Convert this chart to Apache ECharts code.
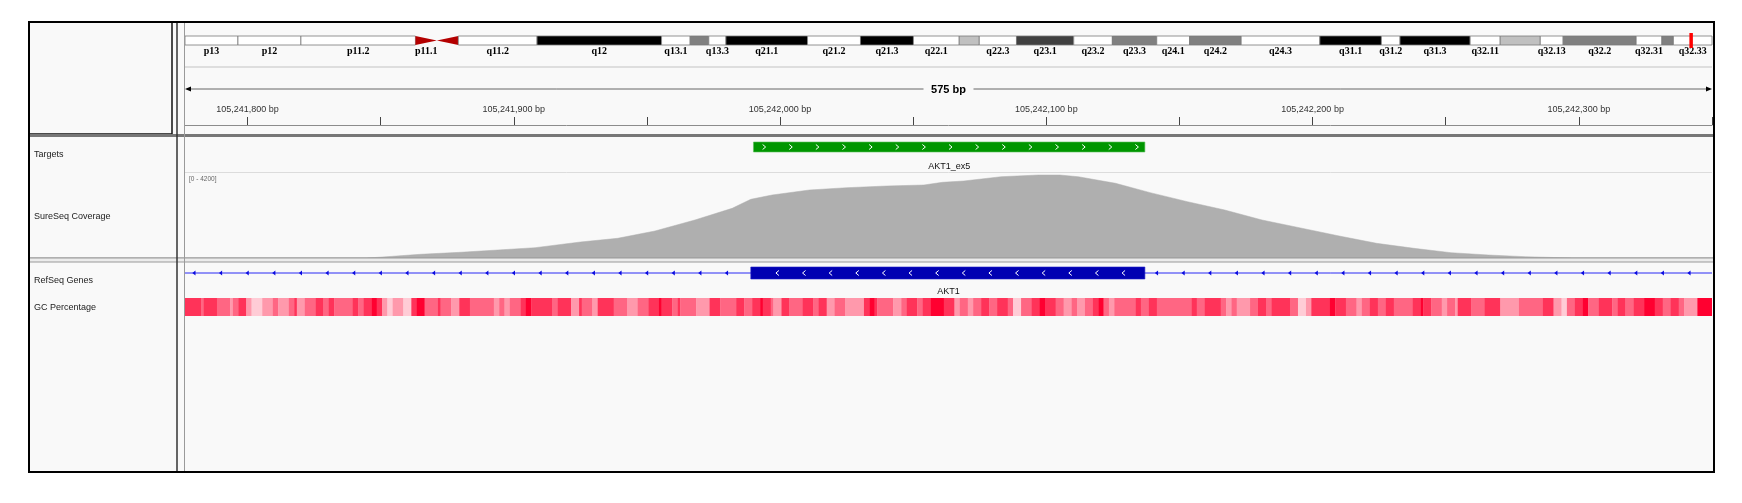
<!DOCTYPE html>
<html>
<head>
<meta charset="utf-8">
<title>AKT1 exon 5 - SureSeq coverage</title>
<script src="https://cdn.jsdelivr.net/npm/echarts@6/dist/echarts.min.js"></script>
<style>
html,body{margin:0;padding:0;background:#fff;}
#chart{width:1742px;height:503px;}
</style>
</head>
<body>
<div id="chart"></div>
<script>
// chr14 ideogram bands, start in Mb (each band ends where the next starts)
var bandNames  = ['p13','p12','p11.2','p11.1','q11.1','q11.2','q12','q13.1','q13.2','q13.3','q21.1','q21.2','q21.3','q22.1','q22.2','q22.3',
                  'q23.1','q23.2','q23.3','q24.1','q24.2','q24.3','q31.1','q31.2','q31.3','q32.11','q32.12','q32.13','q32.2','q32.31','q32.32','q32.33'];
var bandStarts = [0, 3.7, 8.1, 16.1, 17.6, 19.1, 24.6, 33.3, 35.3, 36.6, 37.8, 43.5, 47.2, 50.9, 54.1, 55.5,
                  58.1, 62.1, 64.8, 67.9, 70.2, 73.8, 79.3, 83.6, 84.9, 89.8, 91.9, 94.7, 96.3, 101.4, 103.2, 104.0];
var bandStains = ['gneg','gneg','gneg','acen','acen','gneg','gpos100','gneg','gpos50','gneg','gpos100','gneg','gpos100','gneg','gpos25','gneg',
                  'gpos75','gneg','gpos50','gneg','gpos50','gneg','gpos100','gneg','gpos100','gneg','gpos25','gneg','gpos50','gneg','gpos50','gneg'];
var bandHidden = ['q11.1','q13.2','q22.2','q32.12','q32.32'];   // labels IGV skipped
var chrLength = 107.35;
var ideoMax = 106.7;

// view window (bp)
var regionStart = 105241776.5;
var regionEnd = 105242350;
var regionWidth = '575 bp';
var rulerTicks  = [105241800, 105241850, 105241900, 105241950, 105242000, 105242050, 105242100, 105242150, 105242200, 105242250, 105242300, 105242350];
var rulerLabels = [105241800, 105241900, 105242000, 105242100, 105242200, 105242300];

// Targets track
var targetName = 'AKT1_ex5';
var targetStart = 105241990;
var targetEnd = 105242137;

// RefSeq gene (minus strand)
var geneName = 'AKT1';
var geneStart = 105235686;
var geneEnd = 105262088;
var exonStart = 105241989;
var exonEnd = 105242137;

// SureSeq coverage, range [0 - 4200]
var covMax = 4200;
var covPos = [105241845, 105241852, 105241865, 105241880, 105241894, 105241908, 105241925, 105241939, 105241953, 105241968,
              105241982, 105241989, 105241997, 105242011, 105242025, 105242040, 105242054, 105242061, 105242069, 105242083,
              105242097, 105242105, 105242112, 105242126, 105242139, 105242153, 105242167, 105242181, 105242195, 105242210,
              105242224, 105242238, 105242252, 105242266, 105242280, 105242297];
var covVal = [0, 60, 183, 282, 395, 509, 790, 973, 1334, 1877,
              2455, 2900, 3112, 3360, 3473, 3557, 3607, 3740, 3804, 4016,
              4100, 4100, 4016, 3690, 3230, 2781, 2371, 1877, 1497, 1087,
              726, 479, 262, 148, 64, 0];

// GC percentage: window end (bp offset from regionStart) and GC %
var gcEnds = [6,7,12,17,18,20,23,25,29,33,35,39,41,42,45,49,52,54,56,63,65,67,70,72,74,76,78,82,85,87,90,95,96,100,103,107,116,118,120,122,
              126,128,130,138,140,145,148,149,153,155,161,166,170,174,178,179,183,185,186,192,197,201,207,210,213,216,217,220,221,224,
              227,232,236,238,241,244,248,255,257,259,260,266,269,271,275,277,280,285,289,291,294,296,299,302,305,309,311,314,318,321,
              323,327,330,333,335,338,341,343,345,347,349,357,359,362,365,378,380,383,389,391,393,395,400,403,406,408,415,418,421,423,
              430,432,436,440,442,445,448,451,454,461,464,465,468,472,474,477,478,483,488,494,501,510,514,517,519,522,525,527,531,536,
              538,541,544,548,552,555,558,561,563,568,575];
var gcPct  = [80,60,80,60,40,60,80,40,20,40,60,40,60,80,40,60,80,60,80,60,80,60,80,100,80,40,20,40,20,80,100,60,80,60,40,80,60,40,60,40,
              60,80,100,80,60,80,40,80,60,40,80,60,40,60,80,100,80,60,80,60,40,80,60,80,60,80,100,80,60,40,
              80,60,80,60,80,40,60,40,80,100,80,60,40,60,80,60,80,100,80,40,60,40,60,80,60,80,60,20,60,80,
              100,80,60,40,60,40,60,80,100,60,40,60,80,60,80,60,80,60,80,60,40,60,40,60,80,60,80,60,20,40,
              80,100,80,60,40,60,80,60,80,60,80,100,80,60,40,60,40,80,60,80,40,60,80,40,20,60,80,100,60,80,
              60,80,60,80,100,80,60,80,60,40,100];

var stainColor = {gneg:'#ffffff', gpos25:'#c0c0c0', gpos50:'#808080', gpos75:'#404040', gpos100:'#000000'};
var FONT = '"Liberation Sans", Arial, sans-serif';

function commas(n) {
    return String(n).replace(/\B(?=(\d{3})+(?!\d))/g, ',');
}

function gcColor(v) {
    var g = Math.round(255 - 2.55 * v);
    var b = Math.round(255 - 2.07 * v);
    return 'rgb(255,' + g + ',' + b + ')';
}

var bandData = bandStarts.map(function (s, i) {
    return [s, i < bandStarts.length - 1 ? bandStarts[i + 1] : chrLength, i];
});

var gcData = gcEnds.map(function (e, i) {
    var s = i ? gcEnds[i - 1] : 0;
    return [regionStart + s, regionStart + e, gcPct[i]];
});

var covData = covPos.map(function (p, i) { return [p, covVal[i]]; });

//染色体条带
var renderBand = function (params, api) {
    var i = api.value(2);
    var name = bandNames[i];
    var stain = bandStains[i];
    var cs = params.coordSys;
    var a = api.coord([api.value(0), 1]);
    var b = api.coord([api.value(1), 0]);
    var x0 = Math.max(a[0], cs.x), x1 = Math.min(b[0], cs.x + cs.width);
    var top = a[1], bot = b[1];
    var children = [];
    if (stain === 'acen') {
        var mid = (top + bot) / 2;
        var pts = name.charAt(0) === 'p' ? [[x0, top], [x1, mid], [x0, bot]] : [[x1, top], [x0, mid], [x1, bot]];
        children.push({type: 'polygon', shape: {points: pts}, style: {fill: '#b40000'}});
    } else {
        children.push({type: 'rect', shape: {x: x0, y: top, width: x1 - x0, height: bot - top},
            style: {fill: stainColor[stain], stroke: '#7a7a7a', lineWidth: 0.8}});
    }
    if (bandHidden.indexOf(name) < 0) {
        children.push({type: 'text', style: {text: name, x: (x0 + x1) / 2, y: bot + 6, align: 'center', verticalAlign: 'middle',
            font: 'bold 10px "Liberation Serif", serif', fill: '#000'}});
    }
    return {type: 'group', children: children};
};

var renderMarker = function (params, api) {
    var a = api.coord([api.value(0), 1]);
    var b = api.coord([api.value(1), 0]);
    var w = Math.max(3.5, b[0] - a[0]);
    return {type: 'rect', shape: {x: (a[0] + b[0]) / 2 - w / 2, y: a[1] - 3, width: w, height: b[1] - a[1] + 6}, style: {fill: '#ff0000'}};
};

var renderSpan = function (params, api) {
    var cs = params.coordSys;
    var a = api.coord([api.value(0), 0]);
    var b = api.coord([api.value(1), 0]);
    var y = cs.y + cs.height - 36;
    var mid = (a[0] + b[0]) / 2;
    var line = {stroke: '#666', lineWidth: 1};
    return {type: 'group', children: [
        {type: 'line', shape: {x1: a[0] + 4, y1: y, x2: mid - 25, y2: y}, style: line},
        {type: 'line', shape: {x1: mid + 25, y1: y, x2: b[0] - 4, y2: y}, style: line},
        {type: 'polygon', shape: {points: [[a[0], y], [a[0] + 6, y - 2.5], [a[0] + 6, y + 2.5]]}, style: {fill: '#000'}},
        {type: 'polygon', shape: {points: [[b[0], y], [b[0] - 6, y - 2.5], [b[0] - 6, y + 2.5]]}, style: {fill: '#000'}},
        {type: 'text', style: {text: regionWidth, x: mid, y: y + 0.5, align: 'center', verticalAlign: 'middle',
            font: 'bold 11px ' + FONT, fill: '#000'}}
    ]};
};

var chevron = function (x, cy, dir, color) {
    return {type: 'polyline', shape: {points: [[x - 1.5 * dir, cy - 2.5], [x + 1.5 * dir, cy], [x - 1.5 * dir, cy + 2.5]]},
        style: {stroke: color, lineWidth: 1, fill: null}};
};

var renderTarget = function (params, api) {
    var s = api.value(0), e = api.value(1);
    var a = api.coord([s, 1]);
    var b = api.coord([e, 0]);
    var cy = (a[1] + b[1]) / 2;
    var children = [{type: 'rect', shape: {x: a[0], y: a[1], width: b[0] - a[0], height: b[1] - a[1]},
        style: {fill: '#009600', stroke: '#5cbf5c', lineWidth: 0.6}}];
    for (var p = s + 4; p <= e - 3; p += 10) {
        children.push(chevron(api.coord([p, 0])[0], cy, 1, '#ffffff'));
    }
    children.push({type: 'text', style: {text: targetName, x: (a[0] + b[0]) / 2, y: b[1] + 14.5, align: 'center', verticalAlign: 'middle',
        font: '9px ' + FONT, fill: '#111'}});
    return {type: 'group', children: children};
};

var renderGene = function (params, api) {
    var cs = params.coordSys;
    var gs = api.value(0), ge = api.value(1), es = api.value(2), ee = api.value(3);
    var left = Math.max(api.coord([gs, 0])[0], cs.x);
    var right = Math.min(api.coord([ge, 0])[0], cs.x + cs.width);
    var ea = api.coord([es, 1]), eb = api.coord([ee, 0]);
    var cy = (ea[1] + eb[1]) / 2;
    var children = [{type: 'line', shape: {x1: left, y1: cy, x2: right, y2: cy}, style: {stroke: '#2a2af5', lineWidth: 1}}];
    var arrow = function (p) {
        var x = api.coord([p, 0])[0];
        if (x < cs.x + 3 || x > cs.x + cs.width - 2) { return; }
        children.push({type: 'polygon', shape: {points: [[x - 2, cy], [x + 1.2, cy - 2.5], [x + 1.2, cy + 2.5]]}, style: {fill: '#0a0ae0'}});
    };
    var p;
    for (p = Math.ceil(regionStart / 10) * 10; p < es - 5; p += 10) { arrow(p); }
    for (p = ee + 4.5; p < regionEnd; p += 10) { arrow(p); }
    children.push({type: 'rect', shape: {x: ea[0], y: ea[1], width: eb[0] - ea[0], height: eb[1] - ea[1]},
        style: {fill: '#0000b2', stroke: '#2020c8', lineWidth: 0.6}});
    for (p = es + 10; p < ee - 5; p += 10) {
        children.push(chevron(api.coord([p, 0])[0], cy, -1, '#ffffff'));
    }
    children.push({type: 'text', style: {text: geneName, x: (left + right) / 2, y: eb[1] + 13, align: 'center', verticalAlign: 'middle',
        font: '9px ' + FONT, fill: '#111'}});
    return {type: 'group', children: children};
};

var renderGc = function (params, api) {
    var cs = params.coordSys;
    var a = api.coord([api.value(0), 1]);
    var b = api.coord([api.value(1), 0]);
    var x1 = Math.min(b[0] + 0.3, cs.x + cs.width);
    return {type: 'rect', shape: {x: a[0], y: a[1], width: Math.max(0, x1 - a[0]), height: b[1] - a[1]},
        style: {fill: gcColor(api.value(2))}};
};

var bpAxis = function (gi) {
    return {gridIndex: gi, type: 'value', min: regionStart, max: regionEnd, show: false};
};
var hiddenY = function (gi, max) {
    return {gridIndex: gi, type: 'value', min: 0, max: max || 1, show: false};
};

var L = 185, W = 1527;

var option = {
    animation: false,
    backgroundColor: '#ffffff',
    grid: [
        {left: L, width: W, top: 36, height: 9},
        {left: L, width: W, top: 60, height: 65},
        {left: L, width: W, top: 142, height: 10},
        {left: L, width: W, top: 173, height: 85},
        {left: L, width: W, top: 267, height: 12},
        {left: L, width: W, top: 298, height: 18}
    ],
    xAxis: [
        {gridIndex: 0, type: 'value', min: 0, max: ideoMax, show: false},
        {gridIndex: 1, type: 'value', min: regionStart, max: regionEnd, position: 'bottom',
            axisLine: {show: true, lineStyle: {color: '#8c8c8c', width: 1}},
            axisTick: {show: true, inside: true, length: 8, customValues: rulerTicks, lineStyle: {color: '#444', width: 1}},
            axisLabel: {show: true, inside: true, margin: 11, customValues: rulerLabels, fontSize: 9, color: '#333', fontFamily: FONT,
                formatter: function (v) { return commas(Math.round(v)) + ' bp'; }},
            splitLine: {show: false}},
        bpAxis(2), bpAxis(3), bpAxis(4), bpAxis(5)
    ],
    yAxis: [hiddenY(0), hiddenY(1), hiddenY(2), hiddenY(3, covMax), hiddenY(4), hiddenY(5)],
    graphic: {elements: [
        {type: 'rect', shape: {x: 29, y: 22, width: 1685, height: 450}, style: {fill: '#f9f9f9'}, z: -10},
        {type: 'line', shape: {x1: L, y1: 67, x2: L + W, y2: 67}, style: {stroke: '#dedede', lineWidth: 2}, z: 50},
        {type: 'rect', shape: {x: 29, y: 22, width: 143, height: 112}, style: {fill: null, stroke: '#111', lineWidth: 1.5}, z: 50},
        {type: 'line', shape: {x1: 29, y1: 135.5, x2: 1714, y2: 135.5}, style: {stroke: '#777', lineWidth: 3}, z: 50},
        {type: 'line', shape: {x1: L, y1: 172.5, x2: L + W, y2: 172.5}, style: {stroke: '#dcdcdc', lineWidth: 1}, z: 50},
        {type: 'rect', shape: {x: 29, y: 257.8, width: 1685, height: 4.2}, style: {fill: '#ececec', stroke: '#999', lineWidth: 1.2}, z: 50},
        {type: 'line', shape: {x1: 177, y1: 22, x2: 177, y2: 472}, style: {stroke: '#333', lineWidth: 1.5}, z: 50},
        {type: 'line', shape: {x1: 184.5, y1: 22, x2: 184.5, y2: 472}, style: {stroke: '#9a9a9a', lineWidth: 1}, z: 50},
        {type: 'text', style: {text: 'Targets', x: 34, y: 155, verticalAlign: 'middle', font: '9px ' + FONT, fill: '#222'}, z: 50},
        {type: 'text', style: {text: 'SureSeq Coverage', x: 34, y: 216.5, verticalAlign: 'middle', font: '9px ' + FONT, fill: '#222'}, z: 50},
        {type: 'text', style: {text: 'RefSeq Genes', x: 34, y: 281, verticalAlign: 'middle', font: '9px ' + FONT, fill: '#222'}, z: 50},
        {type: 'text', style: {text: 'GC Percentage', x: 34, y: 308, verticalAlign: 'middle', font: '9px ' + FONT, fill: '#222'}, z: 50},
        {type: 'text', style: {text: '[0 - ' + covMax + ']', x: 189, y: 179, verticalAlign: 'middle', font: '6.5px ' + FONT, fill: '#666'}, z: 50},
        {type: 'rect', shape: {x: 29, y: 22, width: 1685, height: 450}, style: {fill: null, stroke: '#000', lineWidth: 2}, z: 100}
    ]},
    series: [
        {type: 'custom', name: 'ideogram', xAxisIndex: 0, yAxisIndex: 0, renderItem: renderBand, data: bandData, silent: true},
        {type: 'custom', name: 'region', xAxisIndex: 0, yAxisIndex: 0, renderItem: renderMarker,
            data: [[regionStart / 1e6, regionEnd / 1e6]], silent: true, z: 5},
        {type: 'custom', name: 'ruler', xAxisIndex: 1, yAxisIndex: 1, renderItem: renderSpan, data: [[regionStart, regionEnd]], silent: true},
        {type: 'custom', name: 'Targets', xAxisIndex: 2, yAxisIndex: 2, renderItem: renderTarget, data: [[targetStart, targetEnd]], silent: true},
        {type: 'line', name: 'SureSeq Coverage', xAxisIndex: 3, yAxisIndex: 3, data: covData, showSymbol: false, symbol: 'none',
            lineStyle: {color: '#afafaf', width: 0.5}, itemStyle: {color: '#afafaf'}, areaStyle: {color: '#afafaf', opacity: 1}, silent: true},
        {type: 'custom', name: 'RefSeq Genes', xAxisIndex: 4, yAxisIndex: 4, renderItem: renderGene,
            data: [[geneStart, geneEnd, exonStart, exonEnd]], silent: true},
        {type: 'custom', name: 'GC Percentage', xAxisIndex: 5, yAxisIndex: 5, renderItem: renderGc, data: gcData, silent: true}
    ]
};

var chart = echarts.init(document.getElementById('chart'));
chart.setOption(option);
</script>
</body>
</html>
